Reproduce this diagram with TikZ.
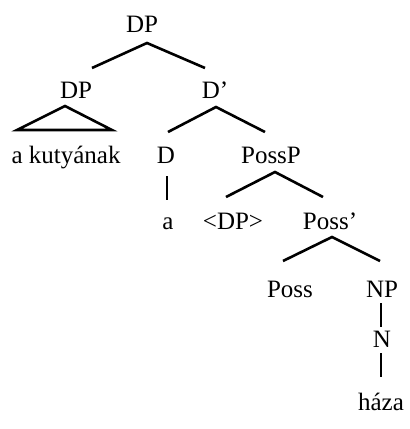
\documentclass[tikz,border=0pt]{standalone}
\usepackage{fontspec}
\setmainfont{Liberation Serif}
\begin{document}
\begin{tikzpicture}[x=1pt,y=-1pt,
  lab/.style={anchor=base,inner sep=0pt,font=\fontsize{25}{29}\selectfont},
  br/.style={line width=2.6pt}]
\useasboundingbox (0,0) rectangle (410,429);
% labels (base = baseline)
\node[lab] (dp)   at (142,32)  {DP};
\node[lab] (dpl)  at (76,98)   {DP};
\node[lab] (dbar) at (215,98)  {D’};
\node[lab] (kut)  at (66,163)  {a kutyának};
\node[lab] (d)    at (166,163) {D};
\node[lab] (possp) at (271,163) {PossP};
\node[lab] (a)    at (168,229) {a};
\node[lab] (tdp)  at (233,229) {<DP>};
\node[lab] (pbar) at (330,229) {Poss’};
\node[lab] (poss) at (290,297) {Poss};
\node[lab] (np)   at (382,297) {NP};
\node[lab] (n)    at (382,347) {N};
\node[lab] (haza) at (381,410) {háza};
% branch points
\coordinate (c1) at (147,43);  \coordinate (c1l) at (92,68);  \coordinate (c1r) at (205,68);
\coordinate (c2) at (216,107); \coordinate (c2l) at (168,132); \coordinate (c2r) at (265,132);
\coordinate (c3) at (275,172); \coordinate (c3l) at (226,197); \coordinate (c3r) at (323,197);
\coordinate (c4) at (332,237); \coordinate (c4l) at (283,261); \coordinate (c4r) at (380,261);
\coordinate (t0) at (65,106);  \coordinate (tl) at (17,130);  \coordinate (tr) at (112,130);
\coordinate (d1) at (167,176); \coordinate (d2) at (167,200);
\coordinate (n1) at (381,303); \coordinate (n2) at (381,327);
\coordinate (h1) at (381,353); \coordinate (h2) at (381,377);
\draw[br] (c1l) -- (c1) -- (c1r);
\draw[br] (c2l) -- (c2) -- (c2r);
\draw[br] (c3l) -- (c3) -- (c3r);
\draw[br] (c4l) -- (c4) -- (c4r);
\draw[br,line join=miter] (t0) -- (tl) -- (tr) -- cycle;
\draw[br] (d1) -- (d2);
\draw[br] (n1) -- (n2);
\draw[br] (h1) -- (h2);
\end{tikzpicture}
\end{document}
